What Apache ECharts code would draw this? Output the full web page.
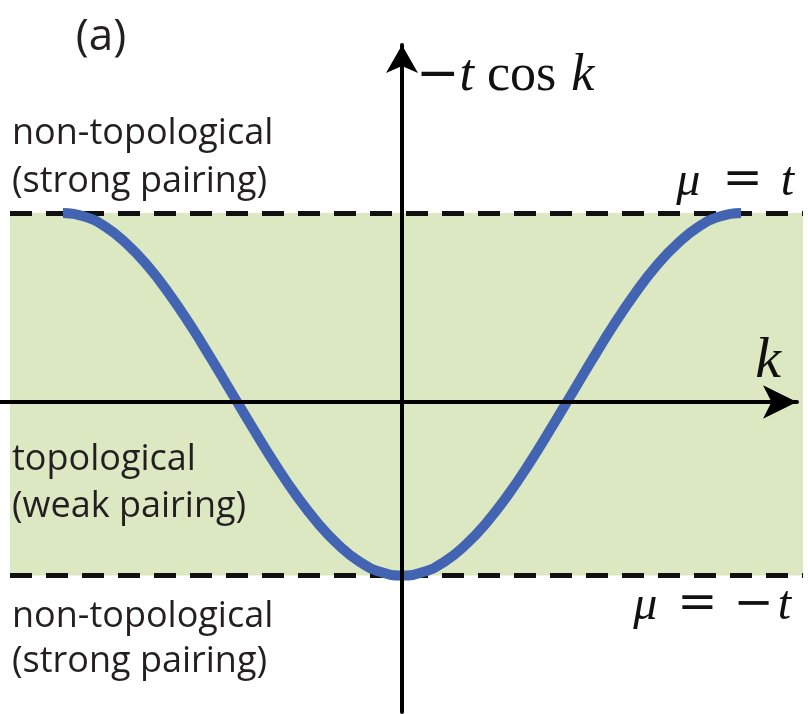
<!DOCTYPE html>
<html>
<head>
<meta charset="utf-8">
<script src="https://cdn.jsdelivr.net/npm/echarts@6/dist/echarts.min.js"></script>
<style>
  html, body { margin: 0; padding: 0; background: #ffffff; }
  #chart { width: 808px; height: 714px; }
</style>
</head>
<body>
<div id="chart"></div>
<script>
// Momentum samples k (radians) across the Brillouin zone [-π, π]
const kValues = [
  -3.142, -2.945, -2.749, -2.553, -2.356, -2.160, -1.963, -1.767,
  -1.571, -1.374, -1.178, -0.982, -0.785, -0.589, -0.393, -0.196,
   0.000,
   0.196,  0.393,  0.589,  0.785,  0.982,  1.178,  1.374,  1.571,
   1.767,  1.963,  2.160,  2.356,  2.553,  2.749,  2.945,  3.142
];
// Band energy −t cos k (in units of t) at each k sample
const energyValues = [
   1.000,  0.981,  0.924,  0.831,  0.707,  0.556,  0.383,  0.195,
   0.000, -0.195, -0.383, -0.556, -0.707, -0.831, -0.924, -0.981,
  -1.000,
  -0.981, -0.924, -0.831, -0.707, -0.556, -0.383, -0.195,  0.000,
   0.195,  0.383,  0.556,  0.707,  0.831,  0.924,  0.981,  1.000
];
// Chemical potential boundaries μ = t and μ = −t
const muLevels = [1, -1];
// Phase labels (left column)
const phaseLabels = [
  'non-topological\n(strong pairing)',
  'topological\n(weak pairing)',
  'non-topological\n(strong pairing)'
];

const curveData = kValues.map((k, i) => [k, energyValues[i]]);

// shared vertical range so both grids line up
const yMin = -1.7531, yMax = 1.9269;

const sans = '"Open Sans", "Noto Sans", sans-serif';
const serif = '"Liberation Serif", "DejaVu Serif", serif';
const symFont = '"DejaVu Serif", serif';
const textColor = '#231f20';
const mathColor = '#111111';

const chart = echarts.init(document.getElementById('chart'), null, { renderer: 'canvas' });

function mathRich(size, opPad) {
  return {
    i: { fontFamily: serif, fontSize: size, fontStyle: 'italic', fill: mathColor },
    n: { fontFamily: serif, fontSize: size, fill: mathColor },
    o: { fontFamily: symFont, fontSize: size, fill: mathColor, padding: opPad }
  };
}

chart.setOption({
  animation: false,
  backgroundColor: '#ffffff',
  grid: [
    { left: 0, right: 11, top: 45, bottom: 2 },
    { left: 10, right: 5, top: 45, bottom: 2 }
  ],
  xAxis: [
    {
      gridIndex: 0, type: 'value', min: -3.7256, max: 3.6608,
      position: 'bottom', offset: -310, z: 10,
      axisLine: {
        show: true, onZero: false,
        symbol: ['none', 'arrow'], symbolSize: [25, 34],
        lineStyle: { color: '#000000', width: 4 }
      },
      axisTick: { show: false }, axisLabel: { show: false }, splitLine: { show: false }
    },
    { gridIndex: 1, type: 'value', min: 0, max: 1, show: false }
  ],
  yAxis: [
    {
      gridIndex: 0, type: 'value', min: yMin, max: yMax, z: 10,
      axisLine: {
        show: true, onZero: true,
        symbol: ['none', 'arrow'], symbolSize: [24, 28],
        lineStyle: { color: '#000000', width: 4 }
      },
      axisTick: { show: false }, axisLabel: { show: false }, splitLine: { show: false }
    },
    { gridIndex: 1, type: 'value', min: yMin, max: yMax, show: false }
  ],
  series: [
    {
      // topological region between μ = −t and μ = t, with its dashed bounds
      type: 'line', xAxisIndex: 1, yAxisIndex: 1, data: [], z: 1, silent: true,
      markArea: {
        silent: true,
        itemStyle: { color: '#dce8c1' },
        data: [[{ yAxis: muLevels[0] }, { yAxis: muLevels[1] }]]
      },
      markLine: {
        silent: true, symbol: 'none',
        label: { show: false },
        lineStyle: { color: '#111111', width: 5, type: [22, 14] },
        emphasis: { disabled: true },
        data: muLevels.map(v => ({ yAxis: v }))
      }
    },
    {
      // dispersion −t cos k
      type: 'line', xAxisIndex: 0, yAxisIndex: 0, data: curveData, z: 5,
      smooth: true, showSymbol: false, silent: true,
      lineStyle: { color: '#4264b2', width: 10, cap: 'butt' }
    }
  ],
  graphic: [
    {
      type: 'text', x: 101, y: 37, z: 50, silent: true,
      style: { text: '(a)', fontFamily: sans, fontSize: 44, fill: textColor, align: 'center', verticalAlign: 'middle' }
    },
    {
      type: 'text', x: 12, y: 158, z: 50, silent: true,
      style: { text: phaseLabels[0], fontFamily: sans, fontSize: 36, lineHeight: 48, fill: textColor, align: 'left', verticalAlign: 'middle' }
    },
    {
      type: 'text', x: 12, y: 483, z: 50, silent: true,
      style: { text: phaseLabels[1], fontFamily: sans, fontSize: 36, lineHeight: 47, fill: textColor, align: 'left', verticalAlign: 'middle' }
    },
    {
      type: 'text', x: 12, y: 639, z: 50, silent: true,
      style: { text: phaseLabels[2], fontFamily: sans, fontSize: 36, lineHeight: 45, fill: textColor, align: 'left', verticalAlign: 'middle' }
    },
    {
      // vertical axis name
      type: 'text', x: 416, y: 76, z: 50, silent: true,
      style: {
        text: '{o|−}{i|t}{c|cos}{i|k}', align: 'left', verticalAlign: 'middle',
        rich: Object.assign(mathRich(52, [0, 0, 0, 0]), {
          c: { fontFamily: serif, fontSize: 52, fill: mathColor, padding: [0, 15, 0, 13] }
        })
      }
    },
    {
      // horizontal axis name
      type: 'text', x: 768, y: 362, z: 50, silent: true,
      style: { text: 'k', fontFamily: serif, fontSize: 58, fontStyle: 'italic', fill: mathColor, align: 'center', verticalAlign: 'middle' }
    },
    {
      type: 'text', x: 794, y: 182, z: 50, silent: true,
      style: {
        text: '{i|μ}{o|=}{i|t}', align: 'right', verticalAlign: 'middle',
        rich: mathRich(48, [0, 18, 0, 22])
      }
    },
    {
      type: 'text', x: 791, y: 606, z: 50, silent: true,
      style: {
        text: '{i|μ}{o|=}{m|−}{i|t}', align: 'right', verticalAlign: 'middle',
        rich: Object.assign(mathRich(48, [0, 16, 0, 20]), {
          m: { fontFamily: symFont, fontSize: 48, fill: mathColor, padding: [0, 4, 0, 0] }
        })
      }
    }
  ]
});
</script>
</body>
</html>
